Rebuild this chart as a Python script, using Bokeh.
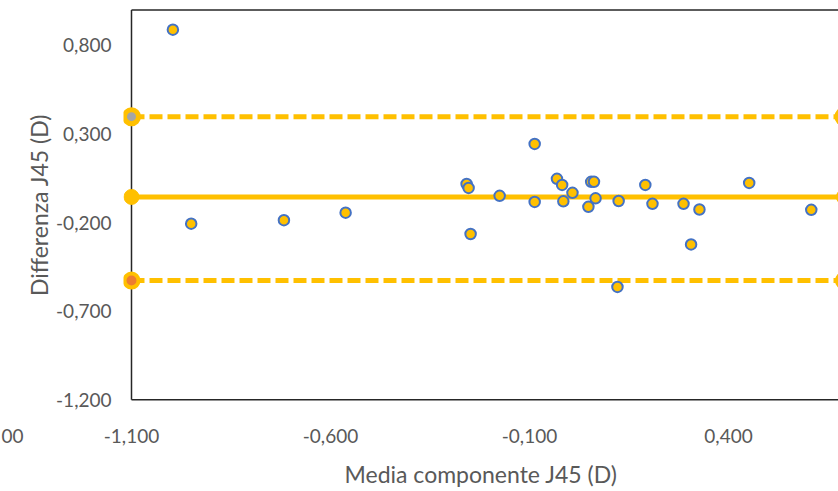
from bokeh.plotting import figure
from bokeh.models import FixedTicker, CustomJSTickFormatter, Label, Range1d
from bokeh.embed import file_html
from bokeh.resources import INLINE

# Bland-Altman data: mean of the two J45 measurements vs. their difference (D)
mean_j45 = [-0.996, -0.950, -0.717, -0.562, -0.258, -0.253, -0.248, -0.175,
            -0.087, -0.087, -0.031, -0.018, -0.015, 0.008, 0.048, 0.055,
            0.062, 0.066, 0.124, 0.121, 0.191, 0.209, 0.287, 0.306, 0.327,
            0.452, 0.608]
diff_j45 = [0.889, -0.206, -0.186, -0.144, 0.018, -0.004, -0.264, -0.049,
            0.244, -0.083, 0.047, 0.013, -0.080, -0.032, -0.111, 0.030,
            0.030, -0.063, -0.078, -0.563, 0.013, -0.094, -0.094, -0.323,
            -0.126, 0.024, -0.128]

# bias and limits of agreement
bias = -0.055
loa_upper = 0.398
loa_lower = -0.527
line_x = [-1.1, 0.69]

x_ticks = [-1.1, -0.6, -0.1, 0.4]
y_ticks = [-1.2, -0.7, -0.2, 0.3, 0.8]
x_min, y_min, y_max = -1.1, -1.2, 1.0

FONT = "Lato"
TEXT = "#595959"
YELLOW = "#FFC000"

p = figure(width=838, height=491,
           x_range=Range1d(-1.1201, 0.6764), y_range=Range1d(-1.2378, 1.0367),
           output_backend="svg", toolbar_location=None,
           min_border_left=123, min_border_right=0,
           min_border_top=3, min_border_bottom=85)
p.outline_line_color = None
p.xgrid.visible = False
p.ygrid.visible = False
p.background_fill_color = "white"
p.border_fill_color = "white"

fmt = CustomJSTickFormatter(code="return tick.toFixed(3).replace('.', ',');")
for ax, ticks in ((p.xaxis[0], x_ticks), (p.yaxis[0], y_ticks)):
    ax.ticker = FixedTicker(ticks=ticks)
    ax.formatter = fmt
    ax.axis_line_color = None
    ax.major_tick_line_color = None
    ax.minor_tick_line_color = None
    ax.major_label_text_font = FONT
    ax.major_label_text_font_size = "19px"
    ax.major_label_text_color = TEXT
    ax.axis_label_text_font = FONT
    ax.axis_label_text_font_size = "23px"
    ax.axis_label_text_font_style = "normal"
    ax.axis_label_text_color = TEXT

p.xaxis.axis_label = "Media componente J45 (D)"
p.yaxis.axis_label = "Differenza J45 (D)"
p.xaxis.major_label_standoff = 16
p.xaxis.axis_label_standoff = 14
p.yaxis.major_label_standoff = 6
p.yaxis.axis_label_standoff = 0

# plot-area border (left, top, bottom)
p.segment(x0=[x_min, x_min, x_min], y0=[y_min, y_max, y_min],
          x1=[x_min, 0.8, 0.8], y1=[y_max, y_max, y_min],
          line_color="#262626", line_width=1.5)

# bias and limits of agreement
p.line(line_x, [bias, bias], line_color=YELLOW, line_width=5)
for lvl in (loa_upper, loa_lower):
    p.line(line_x, [lvl, lvl], line_color=YELLOW, line_width=5,
           line_dash="13 5", line_cap="butt")

p.scatter(line_x, [bias, bias], size=15, fill_color=YELLOW, line_color=YELLOW)
p.scatter(line_x, [loa_upper, loa_upper], size=14, fill_color="#A5A5A5",
          line_color=YELLOW, line_width=5)
p.scatter(line_x, [loa_lower, loa_lower], size=14, fill_color="#ED7D31",
          line_color=YELLOW, line_width=4)

# measurements
p.scatter(mean_j45, diff_j45, size=10.5, fill_color=YELLOW,
          line_color="#4472C4", line_width=2)

# tail of a tick label at the page's left edge, kept in a side panel
p.add_layout(Label(x=-1.4266, y=-1.407, text="00",
                   text_align="left", text_baseline="middle", text_font=FONT,
                   text_font_size="19px", text_color=TEXT), "left")

open("out.html", "w").write(file_html(p, INLINE))
